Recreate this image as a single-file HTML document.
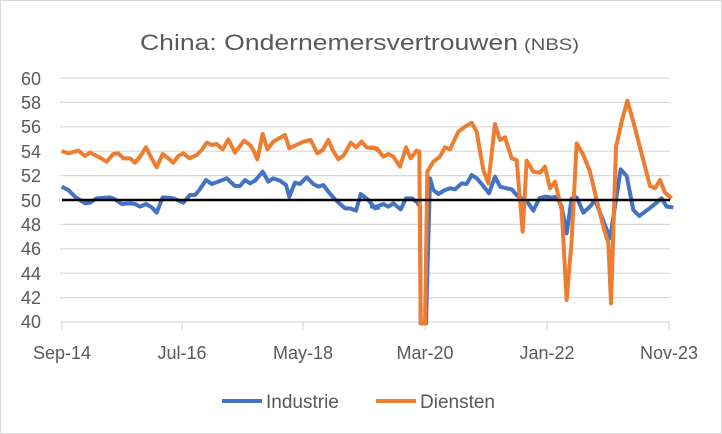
<!DOCTYPE html>
<html><head><meta charset="utf-8"><style>
body{margin:0;background:#fff;}
svg{display:block;font-family:"Liberation Sans",sans-serif;}
</style></head><body>
<svg width="722" height="434" viewBox="0 0 722 434">
<rect x="0.5" y="0.5" width="721" height="433" fill="#fff" stroke="#d9d9d9"/>
<text x="140" y="50" font-size="22" fill="#595959" textLength="378" lengthAdjust="spacingAndGlyphs">China: Ondernemersvertrouwen</text>
<text x="524" y="50" font-size="17" fill="#595959" textLength="55" lengthAdjust="spacingAndGlyphs">(NBS)</text>
<g stroke="#d9d9d9" stroke-width="1.2">
<line x1="60" x2="670" y1="78" y2="78"/><line x1="60" x2="670" y1="102.4" y2="102.4"/>
<line x1="60" x2="670" y1="126.8" y2="126.8"/><line x1="60" x2="670" y1="151.2" y2="151.2"/>
<line x1="60" x2="670" y1="175.6" y2="175.6"/>
<line x1="60" x2="670" y1="224.4" y2="224.4"/><line x1="60" x2="670" y1="248.8" y2="248.8"/>
<line x1="60" x2="670" y1="273.2" y2="273.2"/><line x1="60" x2="670" y1="297.6" y2="297.6"/>
<line x1="60" x2="670" y1="322" y2="322"/>
<line x1="62" x2="62" y1="322" y2="330"/><line x1="182" x2="182" y1="322" y2="330"/>
<line x1="303" x2="303" y1="322" y2="330"/><line x1="425" x2="425" y1="322" y2="330"/>
<line x1="547" x2="547" y1="322" y2="330"/><line x1="669" x2="669" y1="322" y2="330"/>
</g>
<g font-size="18" fill="#595959" text-anchor="end">
<text x="41" y="85">60</text><text x="41" y="109">58</text><text x="41" y="133">56</text>
<text x="41" y="158">54</text><text x="41" y="182">52</text><text x="41" y="207">50</text>
<text x="41" y="231">48</text><text x="41" y="255">46</text><text x="41" y="280">44</text>
<text x="41" y="304">42</text><text x="41" y="328">40</text>
</g>
<g font-size="18" fill="#595959" text-anchor="middle">
<text x="62" y="359">Sep-14</text><text x="182" y="359">Jul-16</text><text x="303" y="359">May-18</text>
<text x="425" y="359">Mar-20</text><text x="547" y="359">Jan-22</text><text x="669" y="359">Nov-23</text>
</g>
<g fill="none" stroke-width="4" stroke-linejoin="round">
<g transform="translate(40,60) scale(0.33333)">
<polyline stroke="#4472c4" vector-effect="non-scaling-stroke" points="65,380 85,390 105,410 135,430 150,428 170,415 210,412 225,418 245,432 270,430 285,432 300,440 318,432 335,442 350,458 368,412 400,415 430,428 450,405 465,405 478,390 498,360 515,372 535,365 560,355 585,378 600,378 615,360 630,370 645,362 668,335 685,365 700,355 720,362 738,375 748,410 765,368 780,372 800,352 820,372 835,380 850,375 865,395 885,418 915,445 930,445 948,452 962,402 985,420 1005,445 1020,442"/>
</g>
<g transform="translate(370,60) scale(0.33333)">
<polyline stroke="#4472c4" vector-effect="non-scaling-stroke" points="0,440 20,440 40,432 55,440 70,430 92,448 108,415 125,415 140,425 150,440 152,790 168,790 180,355 190,390 205,402 225,390 240,385 255,388 275,370 290,372 305,345 320,355 340,378 357,400 375,350 390,380 410,385 425,388 440,405 460,420 475,430 490,452 508,415 525,410 545,413 560,410 575,440 590,520 605,415 620,412 640,458 660,440 675,420 695,470 720,535 738,420 752,328 770,348 790,450 808,468 825,455 845,440 875,415 890,440 910,442"/>
</g>
<g transform="translate(40,60) scale(0.33333)">
<polyline stroke="#ed7d31" vector-effect="non-scaling-stroke" points="65,273 85,280 115,272 135,288 150,278 175,290 200,305 220,282 235,280 250,295 270,295 285,308 300,290 318,262 335,295 350,322 368,282 385,295 400,308 415,288 430,280 448,295 470,285 485,270 500,248 515,255 530,252 548,268 565,238 585,278 612,242 630,255 640,270 652,298 668,222 682,268 700,245 735,225 748,265 790,245 812,240 832,280 848,270 865,240 878,270 895,298 912,285 932,248 948,262 965,245 980,262 1005,265 1020,275"/>
</g>
<g transform="translate(370,60) scale(0.33333)">
<polyline stroke="#ed7d31" vector-effect="non-scaling-stroke" points="0,262 20,265 40,290 55,282 70,290 90,320 108,262 122,295 140,272 148,275 152,790 165,790 172,335 190,305 210,290 225,262 240,268 265,215 285,200 305,188 320,215 340,330 355,370 375,192 390,240 405,232 425,295 440,300 458,515 470,302 490,335 510,338 525,320 540,385 555,365 575,450 590,720 605,540 620,250 640,285 660,335 680,420 700,500 715,550 723,730 738,262 755,185 772,122 790,185 808,255 825,320 840,378 855,385 870,360 885,398 905,415"/>
</g>
</g>
<line x1="62" x2="670" y1="200" y2="200" stroke="#000" stroke-width="2.5"/>
<line x1="222" x2="262" y1="401" y2="401" stroke="#4472c4" stroke-width="4"/>
<text x="266" y="408" font-size="19" fill="#595959">Industrie</text>
<line x1="376" x2="416" y1="401" y2="401" stroke="#ed7d31" stroke-width="4"/>
<text x="420" y="408" font-size="19" fill="#595959">Diensten</text>
</svg>
</body></html>
